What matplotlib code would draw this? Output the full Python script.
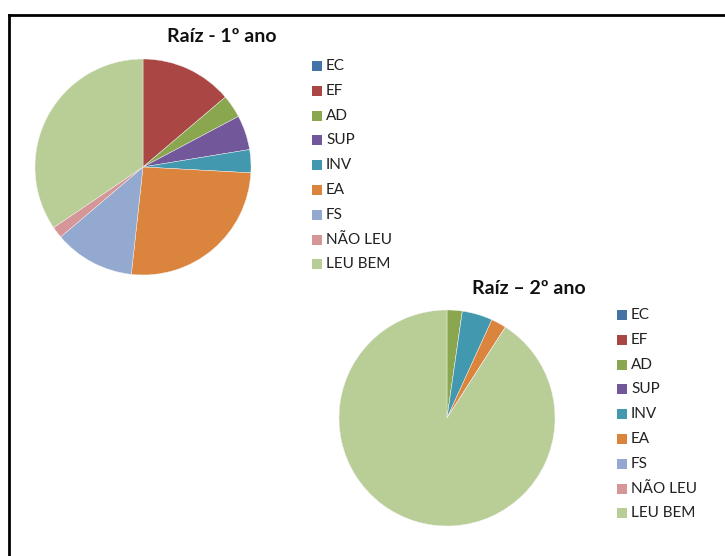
import matplotlib.pyplot as plt
from matplotlib.lines import Line2D
from matplotlib.patches import Rectangle

plt.rcParams["font.family"] = ["Lato", "DejaVu Sans"]

categories = ["EC", "EF", "AD", "SUP", "INV", "EA", "FS", "NÃO LEU", "LEU BEM"]
ano1_values = [0, 8, 2, 3, 2, 15, 7, 1, 20]
ano2_values = [0, 0, 1, 0, 2, 1, 0, 0, 40]
titles = ["Raíz - 1º ano", "Raíz – 2º ano"]

colors = ["#4572A7", "#AA4643", "#8AA64F", "#72589A", "#4198AF",
          "#DB843D", "#93A9CF", "#D69596", "#B9CD96"]

W, H = 725, 556
fig = plt.figure(figsize=(W / 100, H / 100), dpi=100)


def px_axes(left, top, w, h):
    return fig.add_axes([left / W, 1 - (top + h) / H, w / W, h / H])


def draw_pie(values, left, top, size, title, title_xy, legend_x, legend_y):
    ax = px_axes(left, top, size, size)
    ax.pie(values, colors=colors, startangle=90, counterclock=False,
           radius=1, wedgeprops=dict(edgecolor="#f4f4f4", linewidth=0.3))
    ax.set_xlim(-1, 1)
    ax.set_ylim(-1, 1)
    ax.set_aspect("equal")
    ax.axis("off")
    fig.text(title_xy[0] / W, 1 - title_xy[1] / H, title, ha="center", va="center",
             fontsize=14, fontweight="bold", color="#111111")
    step = 24.8
    for i, (lab, col) in enumerate(zip(categories, colors)):
        y = legend_y + i * step
        fig.patches.append(Rectangle((legend_x / W, 1 - (y + 5) / H), 10 / W, 10 / H,
                                     transform=fig.transFigure, facecolor=col,
                                     edgecolor="none"))
        fig.text((legend_x + 14) / W, 1 - y / H, lab, ha="left", va="center",
                 fontsize=11, color="#222222")


draw_pie(ano1_values, 35, 59, 216, titles[0], (222, 37), 312, 66)
draw_pie(ano2_values, 339, 310, 216, titles[1], (529, 289), 617, 315)

# outer frame (only top and left edges visible in the crop)
fig.add_artist(Line2D([8.5 / W, 1], [1 - 14.5 / H, 1 - 14.5 / H],
                      transform=fig.transFigure, color="black", linewidth=2))
fig.add_artist(Line2D([8.5 / W, 8.5 / W], [0, 1 - 14.5 / H],
                      transform=fig.transFigure, color="black", linewidth=2))

fig.savefig("out.png", dpi=100)
